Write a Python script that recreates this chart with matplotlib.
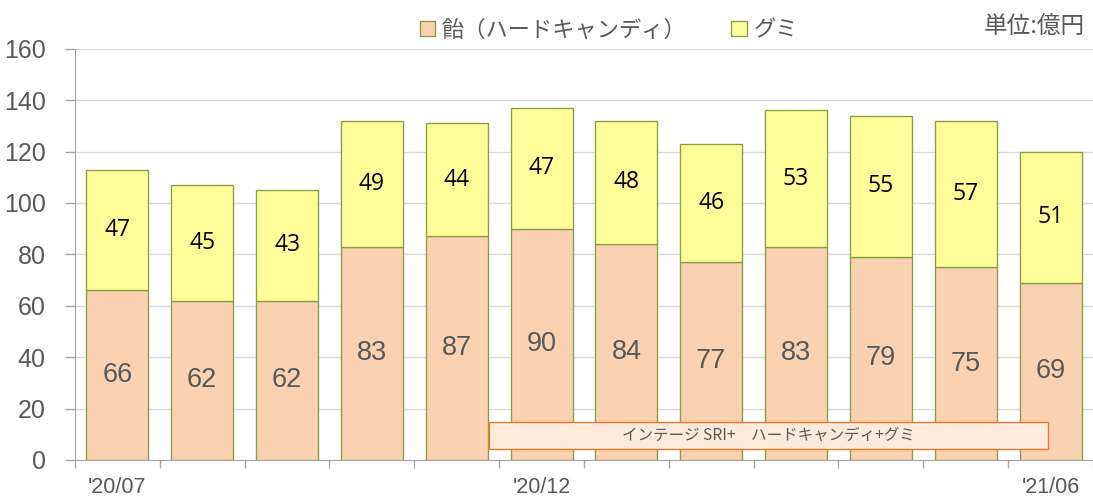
import matplotlib
matplotlib.use("Agg")
import matplotlib.pyplot as plt
from matplotlib.patches import Patch, Rectangle
import numpy as np

plt.rcParams['font.family'] = ['Liberation Sans', 'Noto Sans CJK JP', 'DejaVu Sans']

months = ["'20/07", "'20/08", "'20/09", "'20/10", "'20/11", "'20/12",
          "'21/01", "'21/02", "'21/03", "'21/04", "'21/05", "'21/06"]
shown_labels = {0: "'20/07", 5: "'20/12", 11: "'21/06"}
candy = [66, 62, 62, 83, 87, 90, 84, 77, 83, 79, 75, 69]
gummy = [47, 45, 43, 49, 44, 47, 48, 46, 53, 55, 57, 51]
series_names = ["飴（ハードキャンディ）", "グミ"]
source_note = "インテージ SRI+　ハードキャンディ+グミ"
unit_note = "単位:億円"

c_candy = "#FAD2B2"
c_gummy = "#FFFF99"
c_edge = "#8A9F48"
gray = "#595959"

fig = plt.figure(figsize=(10.93, 4.99), dpi=100)
ax = fig.add_axes([0.0686, 0.0782, 0.9314, 0.824])

x = np.arange(len(months))
w = 0.73
ax.bar(x, candy, w, color=c_candy, edgecolor=c_edge, linewidth=1.0, zorder=3)
ax.bar(x, gummy, w, bottom=candy, color=c_gummy, edgecolor=c_edge, linewidth=1.0, zorder=3)

for i in range(len(x)):
    ax.text(x[i], candy[i] / 2, str(candy[i]), ha='center', va='center',
            fontsize=19.5, color=gray, zorder=5)
    ax.text(x[i], candy[i] + gummy[i] / 2, str(gummy[i]), ha='center', va='center',
            fontsize=16.5, color='black', family=['Open Sans', 'DejaVu Sans'], zorder=5)

ax.set_xlim(-0.5, len(x) - 0.5)
ax.set_ylim(0, 160)
ax.set_yticks(np.arange(0, 161, 20))
ax.yaxis.grid(True, color="#D9D9D9", linewidth=1.0, zorder=0)
ax.set_axisbelow(True)
ax.tick_params(axis='y', labelsize=18, colors=gray, length=7, width=1, direction='out', pad=14)
ax.tick_params(axis='y', color="#A6A6A6")

ax.set_xticks(np.arange(-0.5, len(x), 1.0))
ax.set_xticklabels([])
ax.tick_params(axis='x', length=6, width=1, color="#A6A6A6", direction='out')
for i, lab in shown_labels.items():
    ax.text(x[i], -10.9, lab, ha='center', va='center', fontsize=15.5, color=gray)

for s in ['top', 'right']:
    ax.spines[s].set_visible(False)
ax.spines['left'].set_color("#A6A6A6")
ax.spines['bottom'].set_color("#A6A6A6")

handles = [Patch(facecolor=c_candy, edgecolor=c_edge, label=series_names[0]),
           Patch(facecolor=c_gummy, edgecolor=c_edge, label=series_names[1])]
leg = fig.legend(handles=handles, loc='center', bbox_to_anchor=(0.557, 0.94), ncol=2,
                 frameon=False, handlelength=0.7, handleheight=0.7,
                 handletextpad=0.3, columnspacing=2.0,
                 prop={'family': ['Noto Sans CJK JP'], 'size': 16})
for t in leg.get_texts():
    t.set_color(gray)

fig.text(0.993, 0.945, unit_note, ha='right', va='center', fontsize=17, color=gray,
         family=['Noto Sans CJK JP'])

ax.add_patch(Rectangle((0.4067, 0.0268), 0.5491, 0.0657, transform=ax.transAxes,
                       facecolor='#FDEADA', edgecolor='#E8782A', linewidth=1.0, zorder=6))
ax.text(0.6812, 0.0597, source_note, transform=ax.transAxes, ha='center', va='center',
        fontsize=11.2, color=gray, family=['Noto Sans CJK JP', 'DejaVu Sans'], zorder=7)

fig.savefig("out.png", dpi=100)
